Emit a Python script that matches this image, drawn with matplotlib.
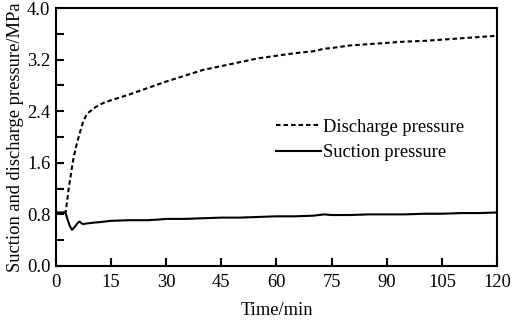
import matplotlib
matplotlib.use('Agg')
from matplotlib import pyplot as plt
from matplotlib.ticker import MultipleLocator

plt.rcParams['font.family'] = ['Liberation Serif', 'DejaVu Serif']
plt.rcParams['font.size'] = 13.3

# discharge pressure (MPa) vs time (min)
t_dis = [0, 1, 2, 2.7, 3.5, 4.7, 5.5, 6.5, 7.5, 8.5, 10, 11, 13, 15, 20, 25, 30,
         35, 40, 45, 50, 55, 60, 65, 70, 73, 75, 80, 85, 90, 95, 100, 105, 110,
         115, 120]
p_dis = [0.82, 0.82, 0.82, 0.84, 1.20, 1.64, 1.85, 2.06, 2.25, 2.36, 2.43, 2.47,
         2.53, 2.57, 2.66, 2.76, 2.86, 2.95, 3.04, 3.10, 3.16, 3.22, 3.26, 3.30,
         3.33, 3.37, 3.38, 3.42, 3.44, 3.46, 3.48, 3.49, 3.51, 3.53, 3.55, 3.57]

# suction pressure (MPa) vs time (min)
t_suc = [0, 1, 2, 2.6, 3.2, 3.8, 4.4, 5.2, 6.0, 6.5, 7.0, 7.5, 8.5, 10, 12, 15,
         20, 25, 28, 30, 35, 40, 45, 50, 55, 60, 65, 70, 73, 75, 80, 85, 90, 95,
         100, 105, 110, 115, 120]
p_suc = [0.83, 0.83, 0.83, 0.83, 0.72, 0.62, 0.56, 0.61, 0.67, 0.69, 0.66, 0.65,
         0.66, 0.67, 0.68, 0.70, 0.71, 0.71, 0.72, 0.73, 0.73, 0.74, 0.75, 0.75,
         0.76, 0.77, 0.77, 0.78, 0.80, 0.79, 0.79, 0.80, 0.80, 0.80, 0.81, 0.81,
         0.82, 0.82, 0.83]

fig = plt.figure(figsize=(5.12, 3.22), dpi=100)
ax = fig.add_axes([0.109, 0.174, 0.862, 0.801])

ax.plot(t_dis, p_dis, color='black', lw=1.5, dashes=(2.2, 1.4),
        label='Discharge pressure')
ax.plot(t_suc, p_suc, color='black', lw=1.5, label='Suction pressure')

ax.set_xlim(0, 120)
ax.set_ylim(0, 4.0)
ax.xaxis.set_major_locator(MultipleLocator(15))
ax.yaxis.set_major_locator(MultipleLocator(0.8))
ax.yaxis.set_minor_locator(MultipleLocator(0.4))
ax.yaxis.set_major_formatter(plt.FormatStrFormatter('%.1f'))
ax.tick_params(which='both', direction='in', length=6, width=1.5,
               top=False, right=False)
ax.tick_params(axis='x', pad=6)
ax.tick_params(axis='y', pad=4)
for s in ax.spines.values():
    s.set_linewidth(1.5)

ax.set_xlabel('Time/min', labelpad=8)
ax.set_ylabel('Suction and discharge pressure/MPa', labelpad=2)

ax.legend(loc='upper left', bbox_to_anchor=(0.50, 0.57), frameon=False,
          handlelength=2.4, handletextpad=0.1, borderpad=0, borderaxespad=0,
          labelspacing=0.45)

fig.savefig('out.png', dpi=100)
